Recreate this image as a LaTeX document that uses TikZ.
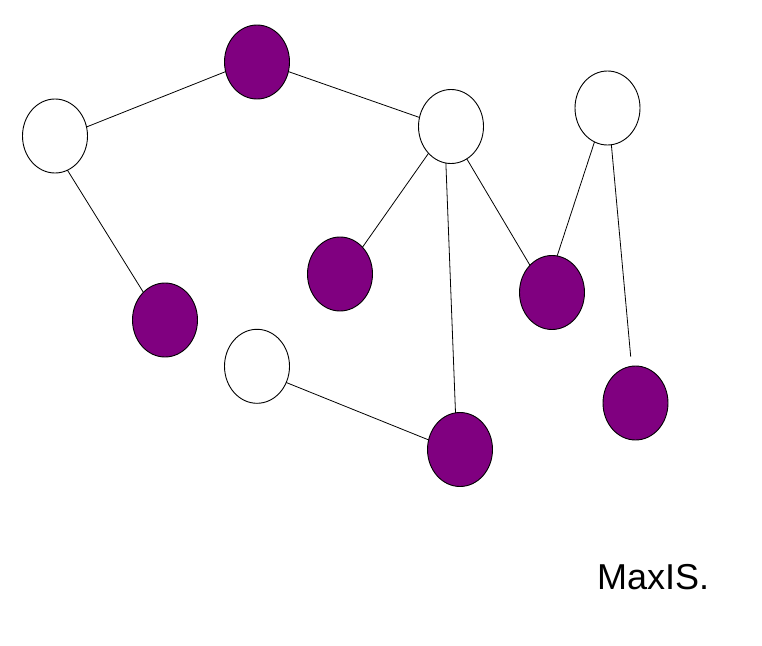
\documentclass[tikz,border=0pt]{standalone}
\usepackage{fontspec}
\setmainfont{Liberation Sans}
\usetikzlibrary{shapes.geometric}
\definecolor{ispurple}{HTML}{800080}
\tikzset{
  vtx/.style={ellipse, draw=black, line width=0.9pt, minimum width=65pt, minimum height=74pt, inner sep=0pt, outer sep=0pt},
  invtx/.style={vtx, fill=ispurple},
  outvtx/.style={vtx, fill=white},
  edge/.style={draw=black, line width=0.8pt},
  lbl/.style={font=\fontsize{36}{40}\selectfont, anchor=base west, inner sep=0pt}
}
\begin{document}
\begin{tikzpicture}[x=1pt,y=-1pt]
\useasboundingbox (0,0) rectangle (762,645);
\node[outvtx] (n1) at (55,136) {};
\node[invtx]  (n2) at (257,62) {};
\node[outvtx] (n3) at (451,126.5) {};
\node[outvtx] (n4) at (607.5,108) {};
\node[invtx]  (n5) at (340,274) {};
\node[invtx]  (n6) at (552,292.5) {};
\node[invtx]  (n7) at (165,320) {};
\node[outvtx] (n8) at (257,366.3) {};
\node[invtx]  (n9) at (460,449.5) {};
\node[invtx]  (n10) at (635.5,403) {};
\coordinate (e410) at (630.7,356.7);

\draw[edge] (n1.16) -- (n2.197);
\draw[edge] (n2.-17) -- (n3.164.6);
\draw[edge] (n1.-70) -- (n7.128.7);
\draw[edge] (n3.230.9) -- (n5.50.5);
\draw[edge] (n3.262.3) -- (n9.97.7);
\draw[edge] (n3.-64) -- (n6.129.5);
\draw[edge] (n4.249) -- (n6.82.7);
\draw[edge] (n4.276.5) -- (e410);
\draw[edge] (n8.-29.5) -- (n9.163.6);

\node[lbl] (cap) at (597,589) {MaxIS.};
\end{tikzpicture}
\end{document}
